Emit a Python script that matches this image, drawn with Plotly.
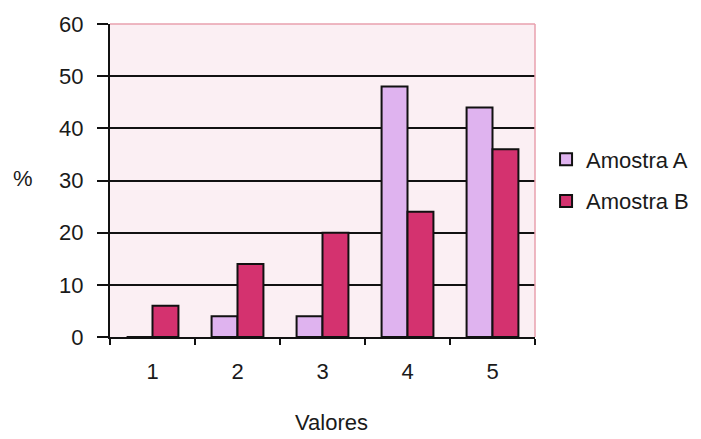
import plotly.graph_objects as go

categories = ["1", "2", "3", "4", "5"]
amostra_a = [0, 4, 4, 48, 44]
amostra_b = [6, 14, 20, 24, 36]
y_ticks = [0, 10, 20, 30, 40, 50, 60]

font = dict(family="Liberation Sans, Arial, sans-serif", size=22, color="#1a1a1a")

fig = go.Figure()
fig.add_trace(go.Bar(x=categories, y=amostra_a, name="Amostra A", legendgroup="a",
                     marker=dict(color="#dfb3ef", line=dict(color="#111", width=2))))
fig.add_trace(go.Bar(x=categories, y=amostra_b, name="Amostra B", legendgroup="b",
                     marker=dict(color="#d4326f", line=dict(color="#111", width=2))))

fig.update_layout(
    width=701, height=439,
    margin=dict(l=102, r=174, t=16, b=110, autoexpand=False),
    paper_bgcolor="white",
    plot_bgcolor="#fbeff3",
    font=font,
    barmode="group",
    bargap=0.39,
    bargroupgap=0,
    showlegend=True,
    legend=dict(x=1.026, y=0.50, xanchor="left", yanchor="middle",
                font=font, tracegroupgap=10, itemwidth=30,
                bgcolor="rgba(0,0,0,0)"),
    xaxis=dict(
        type="category", tickson="boundaries", ticks="outside", ticklen=6,
        tickwidth=2, tickcolor="#111", showline=True, linecolor="#111",
        linewidth=2, showgrid=False, mirror=False, ticklabelstandoff=14,
        automargin=False,
    ),
    yaxis=dict(
        range=[0, 60], tickvals=y_ticks, ticks="outside", ticklen=11,
        tickwidth=2, tickcolor="#111", showline=True, linecolor="#111",
        linewidth=2, showgrid=True, gridcolor="#111", gridwidth=2,
        zeroline=False, ticklabelstandoff=9, automargin=False,
    ),
    annotations=[
        dict(text="%", x=-0.205, y=0.506, xref="paper", yref="paper",
             xanchor="center", yanchor="middle", showarrow=False, font=font),
        dict(text="Valores", x=0.522, y=-0.272, xref="paper", yref="paper",
             xanchor="center", yanchor="middle", showarrow=False, font=font),
    ],
    shapes=[
        dict(type="line", xref="paper", yref="paper", x0=0, x1=1, y0=1, y1=1,
             line=dict(color="#e8a0ae", width=1.5)),
        dict(type="line", xref="paper", yref="paper", x0=1, x1=1, y0=0, y1=1,
             line=dict(color="#e8a0ae", width=1.5)),
    ],
)

fig.write_html("out.html")
